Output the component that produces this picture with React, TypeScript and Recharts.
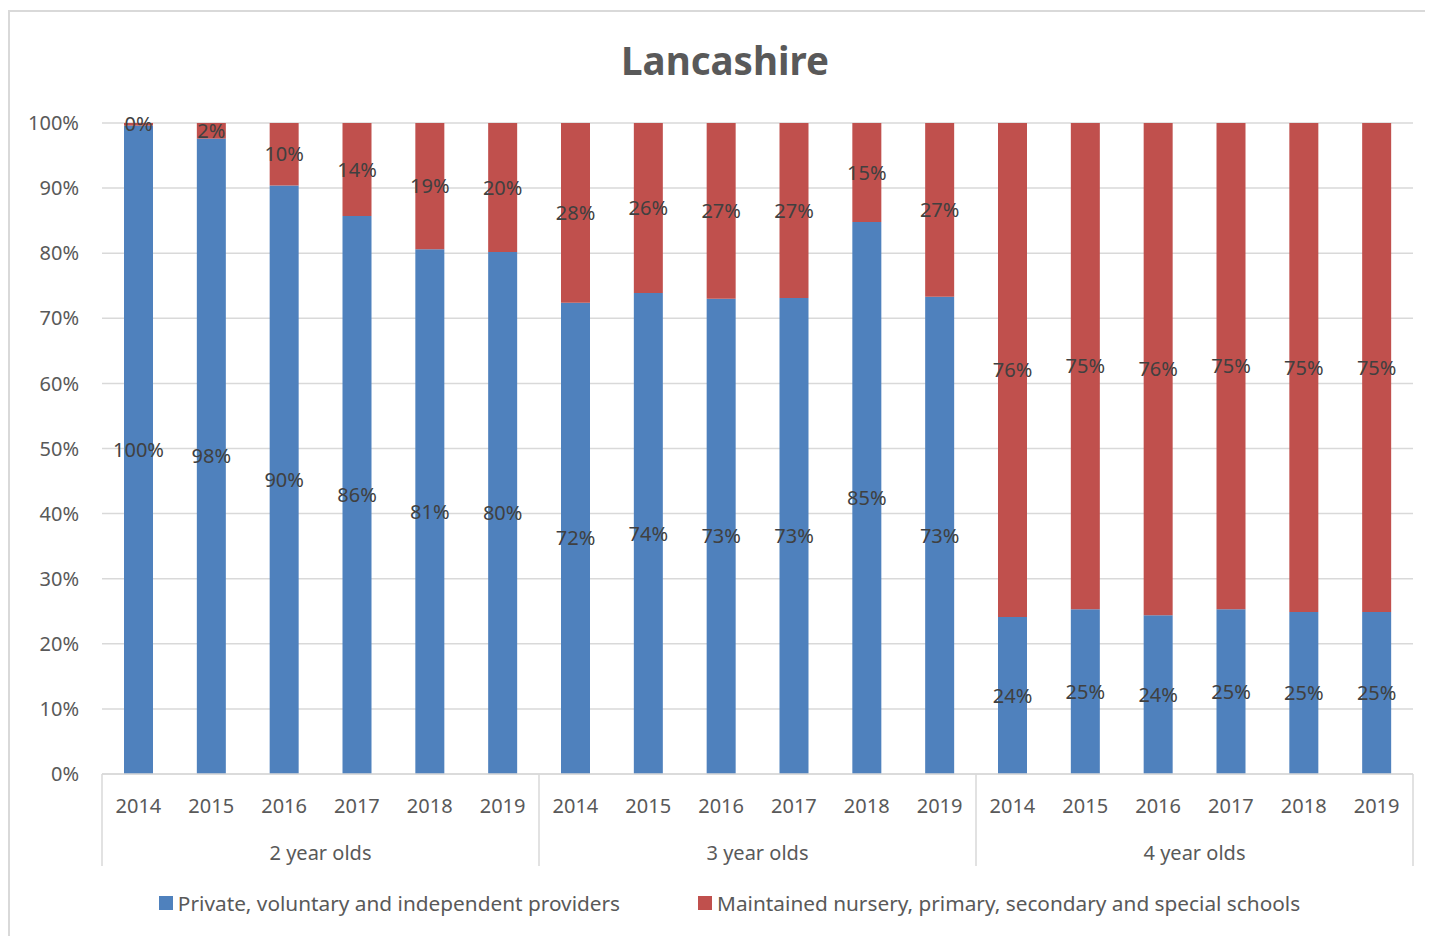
import React from 'react';
import { BarChart, Bar, XAxis, YAxis, CartesianGrid, Legend, LabelList } from 'recharts';

const groups = ['2 year olds', '3 year olds', '4 year olds'];
const years = ['2014', '2015', '2016', '2017', '2018', '2019'];

// share of children by provider type, %
const pviValues = [
  99.6, 97.6, 90.4, 85.7, 80.6, 80.2,
  72.4, 73.9, 73.0, 73.1, 84.8, 73.3,
  24.1, 25.3, 24.4, 25.3, 24.9, 24.9,
];
const maintainedValues = [
  0.4, 2.4, 9.6, 14.3, 19.4, 19.8,
  27.6, 26.1, 27.0, 26.9, 15.2, 26.7,
  75.9, 74.7, 75.6, 74.7, 75.1, 75.1,
];
const yTicks = [0, 10, 20, 30, 40, 50, 60, 70, 80, 90, 100];

const PVI_NAME = 'Private, voluntary and independent providers';
const MAINT_NAME = 'Maintained nursery, primary, secondary and special schools';

const BLUE = '#4f81bd';
const RED = '#c0504d';
const TEXT = '#595959';
const GRID = '#d9d9d9';
const FONT = '"Noto Sans", sans-serif';

const W = 1430;
const H = 930;
const MARGIN = { top: 111, right: 27, left: 0, bottom: 10 };
const Y_WIDTH = 92;
const BAND = (W - MARGIN.left - MARGIN.right - Y_WIDTH) / (groups.length * years.length);

const data = groups.flatMap((g, gi) =>
  years.map((yr, yi) => {
    const i = gi * years.length + yi;
    return { id: `${g}-${yr}`, group: g, year: yr, pvi: pviValues[i], maintained: maintainedValues[i] };
  })
);

const pct = (v: any) => `${Math.round(Number(v))}%`;

const CategoryTick = (props: any) => {
  const { x, y, index } = props;
  const row = data[index];
  if (!row) return null;
  const pos = index % years.length;
  return (
    <g>
      <text x={x} y={y + 31} textAnchor="middle" dominantBaseline="central" fill={TEXT} fontSize={20} fontFamily={FONT}>
        {row.year}
      </text>
      {pos === 0 && <line x1={x - BAND / 2} x2={x - BAND / 2} y1={y} y2={y + 92} stroke={GRID} strokeWidth={1.5} />}
      {index === data.length - 1 && <line x1={x + BAND / 2} x2={x + BAND / 2} y1={y} y2={y + 92} stroke={GRID} strokeWidth={1.5} />}
      {pos === 2 && (
        <text x={x + BAND / 2} y={y + 78} textAnchor="middle" dominantBaseline="central" fill={TEXT} fontSize={20} fontFamily={FONT}>
          {row.group}
        </text>
      )}
    </g>
  );
};

const LegendContent = () => (
  <div style={{ height: 58, display: 'flex', justifyContent: 'center', alignItems: 'center', gap: 78, fontFamily: FONT, fontSize: 20.8, color: TEXT, paddingLeft: 36 }}>
    {[{ c: BLUE, n: PVI_NAME }, { c: RED, n: MAINT_NAME }].map(item => (
      <div key={item.n} style={{ display: 'flex', alignItems: 'center' }}>
        <span style={{ display: 'inline-block', width: 14, height: 14, background: item.c, marginRight: 5 }} />
        <span>{item.n}</span>
      </div>
    ))}
  </div>
);

export default function App() {
  return (
    <div style={{ position: 'relative', left: 0, top: 2, width: W, height: H, border: `2px solid ${GRID}`, borderRight: 'none', borderBottom: 'none', fontFamily: FONT }}>
      <div style={{ position: 'absolute', top: 23, left: 0, width: W, textAlign: 'center', fontSize: 38.5, fontWeight: 700, color: TEXT, lineHeight: '50px' }}>
        Lancashire
      </div>
      <BarChart width={W} height={H} data={data} margin={MARGIN} barSize={29}>
        <CartesianGrid vertical={false} stroke={GRID} strokeWidth={1.5} />
        <XAxis
          dataKey="id"
          interval={0}
          height={100}
          tickLine={false}
          tickSize={0}
          tickMargin={0}
          axisLine={{ stroke: GRID, strokeWidth: 1.5 }}
          tick={<CategoryTick />}
        />
        <YAxis
          width={Y_WIDTH}
          domain={[0, 100]}
          ticks={yTicks}
          tickFormatter={(v: number) => `${v}%`}
          axisLine={false}
          tickLine={false}
          tickSize={0}
          tickMargin={23}
          tick={{ fill: TEXT, fontSize: 20, fontFamily: FONT }}
        />
        <Legend verticalAlign="bottom" content={<LegendContent />} />
        <Bar dataKey="pvi" name={PVI_NAME} stackId="a" fill={BLUE} isAnimationActive={false}>
          <LabelList dataKey="pvi" position="center" formatter={pct} fill="#404040" fontSize={20} fontFamily={FONT} />
        </Bar>
        <Bar dataKey="maintained" name={MAINT_NAME} stackId="a" fill={RED} isAnimationActive={false}>
          <LabelList dataKey="maintained" position="center" formatter={pct} fill="#404040" fontSize={20} fontFamily={FONT} />
        </Bar>
      </BarChart>
    </div>
  );
}
